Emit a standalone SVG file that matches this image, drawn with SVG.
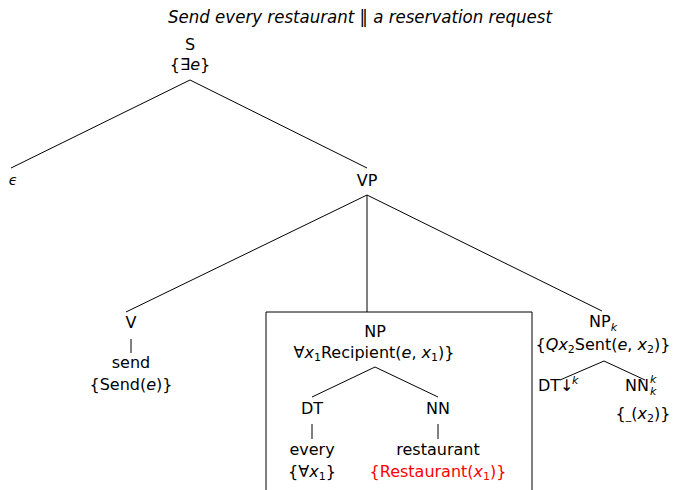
<svg xmlns="http://www.w3.org/2000/svg" width="674" height="490" viewBox="0 0 674 490">
<style>
text{font-family:"DejaVu Sans","Liberation Sans",sans-serif;font-size:16px;fill:#000;text-anchor:middle}
.i{font-style:italic}
.s{font-size:11px}
.st{text-anchor:start}
.red{fill:#ff0000}
line,path{stroke:#000;stroke-width:1;fill:none}
</style>
<rect width="674" height="490" fill="#fff"/>
<text x="360" y="23" class="i" style="font-size:17px" textLength="384" lengthAdjust="spacingAndGlyphs">Send every restaurant ‖ a reservation request</text>
<g id="connectors">
<line x1="190" y1="80" x2="11" y2="168"/>
<line x1="190" y1="80" x2="367" y2="168"/>
<line x1="367" y1="195" x2="126" y2="312"/>
<line x1="367" y1="195" x2="367" y2="312"/>
<line x1="367" y1="195" x2="602" y2="311"/>
<line x1="131" y1="339" x2="131" y2="353"/>
<line x1="375" y1="367" x2="312" y2="397"/>
<line x1="375" y1="367" x2="438" y2="397"/>
<line x1="312" y1="424" x2="312" y2="439"/>
<line x1="438" y1="424" x2="438" y2="439"/>
<line x1="604" y1="361" x2="560" y2="380"/>
<line x1="604" y1="361" x2="645" y2="380"/>
</g>
<g id="box"><path d="M266,490 V312 H532 V490"/></g>
<g id="S"><text x="190" y="50">S</text><text x="190" y="70">{∃<tspan class="i">e</tspan>}</text></g>
<g id="eps"><text x="13" y="185" class="i" style="font-size:14px">ϵ</text></g>
<g id="VP"><text x="367" y="186">VP</text></g>
<g id="V"><text x="131" y="328">V</text><text x="131" y="368">send</text><text x="131" y="390">{Send(<tspan class="i">e</tspan>)}</text></g>
<g id="NP"><text x="375" y="337">NP</text><text x="374" y="358">∀<tspan class="i">x</tspan><tspan class="s" dy="3">1</tspan><tspan dy="-3">Recipient(</tspan><tspan class="i">e</tspan>, <tspan class="i">x</tspan><tspan class="s" dy="3">1</tspan><tspan dy="-3">)}</tspan></text></g>
<g id="DT"><text x="312" y="414">DT</text><text x="312" y="455">every</text><text x="312" y="477">{∀<tspan class="i">x</tspan><tspan class="s" dy="3">1</tspan><tspan dy="-3">}</tspan></text></g>
<g id="NN"><text x="438" y="414">NN</text><text x="438" y="455">restaurant</text><text x="438" y="477" class="red">{Restaurant(<tspan class="i">x</tspan><tspan class="s" dy="3">1</tspan><tspan dy="-3">)}</tspan></text></g>
<g id="NPk"><text x="603" y="327">NP<tspan class="s i" dy="4">k</tspan></text><text x="603" y="350">{<tspan class="i">Qx</tspan><tspan class="s" dy="3">2</tspan><tspan dy="-3">Sent(</tspan><tspan class="i">e</tspan>, <tspan class="i">x</tspan><tspan class="s" dy="3">2</tspan><tspan dy="-3">)}</tspan></text></g>
<g id="DTk"><text x="538" y="391" class="st">DT↓</text><text x="572" y="384" class="s i st">k</text></g>
<g id="NNk"><text x="625" y="391" class="st">NN</text><text x="650" y="383" class="s i st">k</text><text x="650" y="395" class="s i st">k</text><text x="643" y="419">{<tspan class="s">_</tspan>(<tspan class="i">x</tspan><tspan class="s" dy="3">2</tspan><tspan dy="-3">)}</tspan></text></g>
</svg>
